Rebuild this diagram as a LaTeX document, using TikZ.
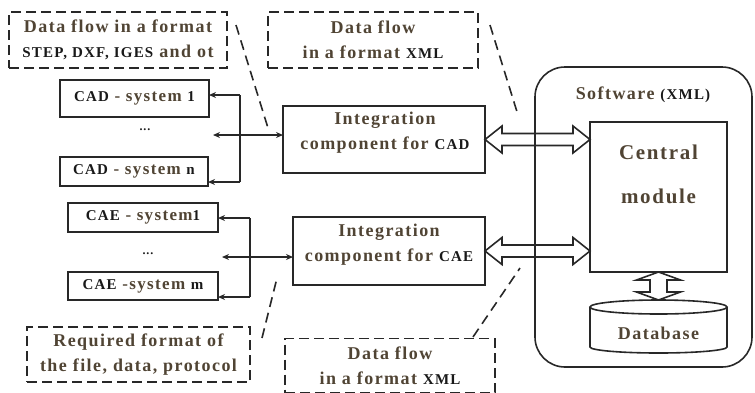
\documentclass[tikz,border=0pt]{standalone}
\usepackage{fontspec}
\setmainfont{Liberation Serif}[LetterSpace=8]
\usetikzlibrary{arrows.meta,calc}
\definecolor{txt}{RGB}{80,68,52}
\definecolor{ln}{RGB}{40,40,40}
\definecolor{acc}{RGB}{25,25,25}
\newcommand\ac[1]{{\fontsize{15}{18}\selectfont\color{acc}#1}}
% horizontal open double arrow between two points (same y as the first)
\newcommand\hdarrow[2]{%
  \draw let \p1=(#1), \p2=(#2) in
    (\x1,\y1) -- (\x1+17pt,\y1+13.5pt) -- (\x1+17pt,\y1+6pt) -- (\x2-17pt,\y1+6pt)
    -- (\x2-17pt,\y1+13.5pt) -- (\x2,\y1) -- (\x2-17pt,\y1-13.5pt) -- (\x2-17pt,\y1-6pt)
    -- (\x1+17pt,\y1-6pt) -- (\x1+17pt,\y1-13.5pt) -- cycle;}
% vertical open double arrow (first point above the second)
\newcommand\vdarrow[2]{%
  \draw let \p1=(#1), \p2=(#2) in
    (\x1,\y1) -- (\x1+22pt,\y1-8pt) -- (\x1+8.5pt,\y1-8pt) -- (\x1+8.5pt,\y2+8pt)
    -- (\x1+22pt,\y2+8pt) -- (\x1,\y2) -- (\x1-22pt,\y2+8pt) -- (\x1-8.5pt,\y2+8pt)
    -- (\x1-8.5pt,\y1-8pt) -- (\x1-22pt,\y1-8pt) -- cycle;}
\begin{document}
\begin{tikzpicture}[x=1pt,y=-1pt,line width=1.6pt,color=ln,
  every node/.style={text=txt,font=\bfseries\fontsize{18}{25}\selectfont,inner sep=0pt,outer sep=0pt,align=center},
  sysbox/.style={draw,font=\bfseries\fontsize{17}{20}\selectfont},
  dbox/.style={draw,dash pattern=on 10pt off 5pt},
  lead/.style={dash pattern=on 10pt off 6pt},
  arr/.style={-{Stealth[length=7pt,width=6pt]}},
  darr/.style={{Stealth[length=7pt,width=6pt]}-{Stealth[length=7pt,width=6pt]}},
  dots/.style={text=acc,font=\bfseries\fontsize{12}{14}\selectfont}]
\useasboundingbox (0,0) rectangle (755,392);

% dashed note boxes
\node[dbox,minimum width=218pt,minimum height=56pt] (d1) at (118,40)
  {Data flow in a format\\\ac{STEP, DXF, IGES} and ot};
\node[dbox,minimum width=210pt,minimum height=56pt] (d2) at (373,40)
  {Data flow\\in a format \ac{XML}};
\node[dbox,minimum width=223pt,minimum height=55pt] (d3) at (138.5,354.5)
  {Required format of\\the file, data, protocol};
\node[dbox,minimum width=210pt,minimum height=54pt] (d4) at (390,365.5)
  {Data flow\\in a format \ac{XML}};

% CAD systems
\node[sysbox,minimum width=149pt,minimum height=37pt] (cad1) at (134.5,98.5) {\ac{CAD} - system \ac{1}};
\node[dots] (dots1) at (145,130) {...};
\node[sysbox,minimum width=148pt,minimum height=29pt] (cadn) at (134,171.5) {\ac{CAD} - system \ac{n}};
% CAE systems
\node[sysbox,minimum width=150pt,minimum height=29pt] (cae1) at (143,217.5) {\ac{CAE} - system\ac{1}};
\node[dots] (dots2) at (148,254) {...};
\node[sysbox,minimum width=150pt,minimum height=28pt] (caem) at (143,286) {\ac{CAE} -system \ac{m}};

% integration components
\node[draw,minimum width=202pt,minimum height=67pt] (intcad) at (384,139.5) {};
\node (intcadt) at (385,133) {Integration\\component for \ac{CAD}};
\node[draw,minimum width=192pt,minimum height=68pt] (intcae) at (389,251) {};
\node (intcaet) at (389,245) {Integration\\component for \ac{CAE}};

% software
\node[draw,rounded corners=30pt,minimum width=217pt,minimum height=300pt] (soft) at (643.5,217) {};
\node (softt) at (643,95) {Software \ac{(XML)}};
\node[draw,minimum width=137pt,minimum height=150pt] (central) at (658.5,197) {};
\node[font=\bfseries\fontsize{21}{44}\selectfont] (centralt) at (658.5,174) {Central\\module};
\node[minimum width=137pt,minimum height=53pt] (db) at (658.5,326.5) {};
\node (dbt) at (658.5,333) {Database};
\draw ($(db.north)+(0,7)$) ellipse [x radius=68.5pt,y radius=7pt];
\draw ($(db.north west)+(0,7)$) -- ($(db.south west)+(0,-6)$)
  arc[start angle=180,end angle=360,x radius=68.5pt,y radius=6pt]
  -- ($(db.north east)+(0,7)$);

% CAD bracket
\coordinate (bc1) at (240,95);
\coordinate (bc2) at (240,182);
\coordinate (mc) at (213,135);
\draw (bc1) -- (bc2);
\draw[arr] (bc1) -- (cad1.east|-bc1);
\draw[arr] (bc2) -- (cadn.east|-bc2);
\draw[darr] (mc) -- (intcad.west|-mc);
% CAE bracket
\coordinate (be1) at (250,218);
\coordinate (be2) at (250,297);
\coordinate (me) at (222,257);
\draw (be1) -- (be2);
\draw[arr] (be1) -- (cae1.east|-be1);
\draw[arr] (be2) -- (caem.east|-be2);
\draw[darr] (me) -- (intcae.west|-me);

% open double arrows
\hdarrow{intcad.east}{central.west}
\hdarrow{intcae.east}{central.west}
\vdarrow{central.south}{db.north}

% dashed leaders
\coordinate (l1a) at (236,25);  \coordinate (l1b) at (268,128);
\coordinate (l2a) at (490,25);  \coordinate (l2b) at (518,115);
\coordinate (l3a) at (262,338); \coordinate (l3b) at (277,278);
\coordinate (l4a) at (473,337); \coordinate (l4b) at (520,268);
\draw[lead] (l1a) -- (l1b);
\draw[lead] (l2a) -- (l2b);
\draw[lead] (l3a) -- (l3b);
\draw[lead] (l4a) -- (l4b);
\end{tikzpicture}
\end{document}
